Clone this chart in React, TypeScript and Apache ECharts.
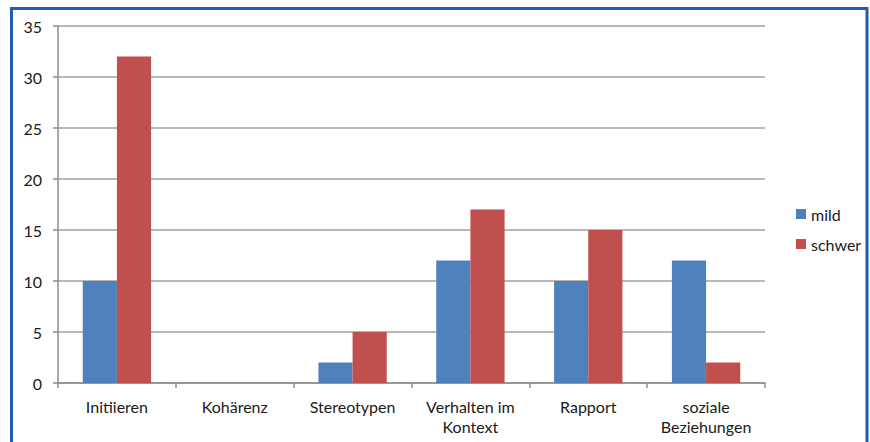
import React, { useEffect, useRef } from "react";
import * as echarts from "echarts";

const categories = ["Initiieren", "Kohärenz", "Stereotypen", "Verhalten im\nKontext", "Rapport", "soziale\nBeziehungen"];
const mildValues = [10, 0, 2, 12, 10, 12];
const schwerValues = [32, 0, 5, 17, 15, 2];
const seriesNames = ["mild", "schwer"];

const FONT = "Lato";

export default function App() {
  const ref = useRef<HTMLDivElement>(null);
  useEffect(() => {
    if (!ref.current) return;
    const chart = echarts.init(ref.current, null, { renderer: "svg" });
    chart.setOption({
      animation: false,
      backgroundColor: "#ffffff",
      textStyle: { fontFamily: FONT },
      grid: { left: 58, right: 105, top: 26, bottom: 59, containLabel: false },
      legend: {
        orient: "vertical",
        left: 791,
        top: 201,
        itemWidth: 10,
        itemHeight: 10,
        itemGap: 14,
        icon: "rect",
        textStyle: { fontFamily: FONT, fontSize: 16, color: "#1a1a1a" },
        data: seriesNames,
      },
      xAxis: {
        type: "category",
        data: categories,
        axisLine: { lineStyle: { color: "#8c8c8c", width: 1.5 } },
        axisTick: { show: true, length: 5, lineStyle: { color: "#8c8c8c", width: 1.5 } },
        axisLabel: { fontFamily: FONT, fontSize: 16, color: "#1a1a1a", margin: 13, lineHeight: 20, interval: 0 },
      },
      yAxis: {
        type: "value",
        min: 0,
        max: 35,
        interval: 5,
        axisLine: { show: true, lineStyle: { color: "#8c8c8c", width: 1.5 } },
        axisTick: { show: true, length: 5, lineStyle: { color: "#8c8c8c", width: 1.5 } },
        splitLine: { show: true, lineStyle: { color: "#a0a0a0", width: 1.5 } },
        axisLabel: { fontFamily: FONT, fontSize: 16, color: "#1a1a1a", margin: 16 },
      },
      series: [
        {
          name: seriesNames[0],
          type: "bar",
          data: mildValues,
          itemStyle: { color: "#4f81bd" },
          barGap: "0%",
          barCategoryGap: "42%",
        },
        {
          name: seriesNames[1],
          type: "bar",
          data: schwerValues,
          itemStyle: { color: "#c0504d" },
          barGap: "0%",
          barCategoryGap: "42%",
        },
      ],
      graphic: [
        {
          type: "rect",
          shape: { x: 11.5, y: 8.5, width: 855.5, height: 445 },
          style: { fill: "none", stroke: "#1b5fae", lineWidth: 3 },
          z: 100,
        },
      ],
    });
    return () => chart.dispose();
  }, []);
  return (
    <div
      ref={ref}
      style={{ position: "fixed", left: 0, top: 0, width: 870, height: 442, background: "#fff" }}
    />
  );
}
